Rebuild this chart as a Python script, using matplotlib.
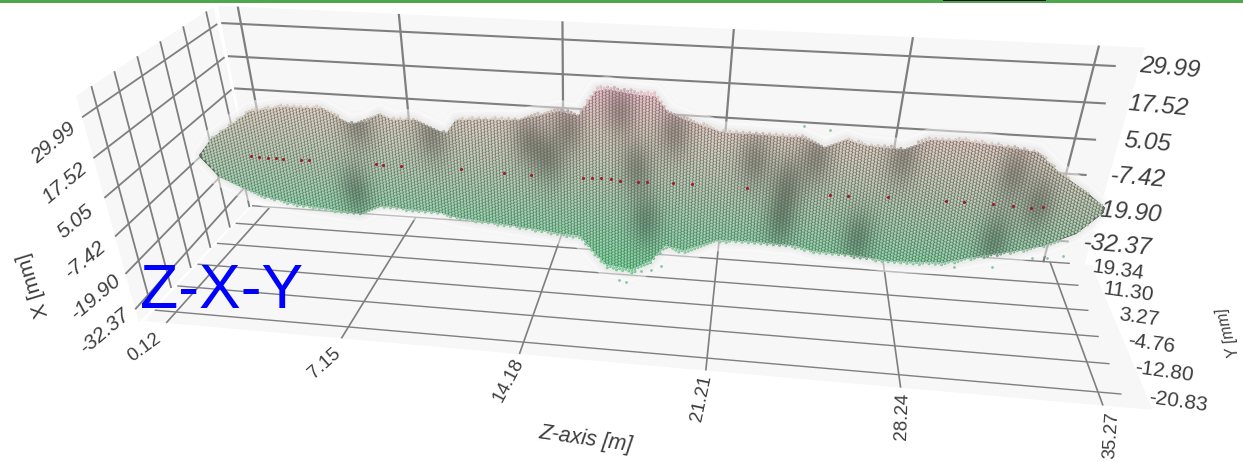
import numpy as np
import matplotlib
matplotlib.use("Agg")
import matplotlib.pyplot as plt
from matplotlib.colors import LinearSegmentedColormap
from matplotlib.patches import Polygon, Rectangle

# ---------- data ----------
z_ticks = [0.12, 7.15, 14.18, 21.21, 28.24, 35.27]
x_ticks = [29.99, 17.52, 5.05, -7.42, -19.90, -32.37]
y_ticks = [19.34, 11.30, 3.27, -4.76, -12.80, -20.83]

cloud_z = [0.24, 0.82, 1.79, 2.49, 3.74, 5.30, 6.27, 6.93, 7.44, 7.94, 8.80, 9.46, 9.97,
           10.36, 11.41, 12.69, 14.25, 15.03, 15.69, 16.08, 17.09, 17.87, 18.41, 19.19,
           20.48, 21.76, 23.48, 24.37, 25.15, 25.93, 27.37, 28.26, 29.55, 30.87, 32.43,
           33.32, 34.49, 35.35]
cloud_top = [-2.2, 4.3, 10.7, 15.5, 18.0, 18.6, 13.5, 14.7, 17.8, 16.0, 16.5, 13.7, 12.3,
             17.4, 18.4, 18.8, 23.1, 21.9, 31.2, 32.1, 30.9, 30.6, 24.8, 22.5,
             19.2, 19.2, 19.2, 16.3, 19.5, 17.9, 17.4, 21.2, 21.6, 20.6, 19.2,
             13.2, 7.4, 2.4]
cloud_bottom = [-2.9, -9.8, -13.8, -16.1, -18.1, -19.1, -19.5, -16.5, -16.1, -16.5, -16.6,
                -16.8, -17.8, -18.3, -18.9, -19.7, -21.0, -21.2, -27.6, -30.7, -31.7,
                -28.1, -22.2, -23.3, -18.7, -18.2, -18.3, -19.7, -19.9, -20.0, -21.0,
                -20.7, -20.1, -17.0, -14.0, -11.8, -6.9, 0.8]

center_z = [2.26, 2.57, 2.88, 3.2, 3.5, 4.17, 4.52, 7.13, 7.4, 8.1, 10.44, 12.11, 13.16,
            15.15, 15.53, 15.88, 16.24, 16.59, 17.29, 17.64, 18.65, 19.39, 21.53, 24.76,
            25.46, 27.02, 29.24, 29.94, 31.07, 31.85, 32.55, 33.01]
center_x = [-1.2, -1.3, -1.5, -1.2, -1.5, -1.3, -1.0, -0.8, -0.9, -0.85, -0.4, -0.7, -0.5,
            -0.45, -0.2, 0.0, 0.0, -0.55, -0.45, -0.2, 0.1, 0.2, 0.2, -0.1,
            0.0, 0.6, 0.7, 0.8, 1.1, 0.9, 0.7, 1.0]

shadow_z = [6.58, 6.19, 9.4, 13.08, 14.64, 13.86, 16.59, 17.25, 17.64, 18.65, 21.76, 23.09,
            22.93, 24.1, 27.37, 26.04, 31.65, 32.82, 31.38]
shadow_x = [13.3, -10.6, 10.9, 11.4, 16.8, 5.7, 23.8, 4.7, -13.2, 17.4, 9.8, 2.9,
            -9.7, 12.2, 14.1, -13.3, 11.2, 2.2, -10.8]

stray_z = [16.6, 16.9, 17.5, 17.9, 18.3, 30.0, 31.5, 33.0, 33.6, 34.2, 23.5, 24.5]
stray_x = [-34.5, -35.0, -30.5, -30.0, -28.5, -20.5, -19.5, -15.5, -15.0, -14.0, 22.5, 21.5]

# ---------- the view: tick spacing as drawn, and one four-corner map per drawn plane ----------
z_frac = [0, 0.187, 0.377, 0.576, 0.784, 1]
x_frac = [0, 0.213, 0.42, 0.621, 0.816, 1]
y_frac = [0, 0.232, 0.44, 0.64, 0.832, 1]

def warp(v, ticks, fracs):
    t = np.asarray(ticks, float)
    f = np.asarray(fracs, float)
    o = np.argsort(t)
    t, f = t[o], f[o]
    v = np.asarray(v, float)
    out = np.interp(v, t, f)
    out = np.where(v < t[0], f[0] + (v - t[0]) * (f[1] - f[0]) / (t[1] - t[0]), out)
    return np.where(v > t[-1], f[-1] + (v - t[-1]) * (f[-1] - f[-2]) / (t[-1] - t[-2]), out)

def plane(a_warp, b_warp, c00, c10, c11, c01):
    c00, c10, c11, c01 = [np.array(c, float) for c in (c00, c10, c11, c01)]
    def f(a, b):
        u, v = a_warp(a), b_warp(b)
        px = (1-u)*(1-v)*c00[0] + u*(1-v)*c10[0] + u*v*c11[0] + (1-u)*v*c01[0]
        py = (1-u)*(1-v)*c00[1] + u*(1-v)*c10[1] + u*v*c11[1] + (1-u)*v*c01[1]
        return px, py
    return f

wz = lambda v: warp(v, z_ticks, z_frac)
wx = lambda v: warp(v, x_ticks, x_frac)
wy = lambda v: warp(v, y_ticks[::-1], y_frac)
wy_side = lambda v: warp(v, [-20.83, 19.34], [0, 1])
lin_z = lambda v: warp(v, [0.12, 35.27], [0, 1])
lin_x = lambda v: warp(v, [29.99, -32.37], [0, 1])

zl, zh, xl, xh, yl, yh = 0.12, 35.27, -32.37, 29.99, -20.83, 19.34
wall = plane(wz, wx, (241, 24), (1094, 65), (1049, 240), (270, 180))
floor = plane(wz, wy, (176, 312), (1098, 392), (1050, 262), (270, 207))
side = plane(wy_side, wx, (97, 107), (210, 29), (245, 187), (148, 295))
mid = plane(lin_z, lin_x, (178, 66), (1122, 122), (1077, 315), (215, 238))

zmin, zmax, xtop, xwall, xside = -0.75, 36.1, 36.5, -41.0, -37.0
yfar = yh + 2.6

fig = plt.figure(figsize=(12.43, 4.62), dpi=100, facecolor="white")
ax = fig.add_axes([0, 0, 1, 1])
ax.set_xlim(0, 1243)
ax.set_ylim(462, 0)
ax.axis("off")
plt.rcParams["font.family"] = ["Liberation Sans", "DejaVu Sans"]

pane = "#f7f7f8"
grid = "#7f7f7f"
def pane_poly(H, corners):
    ax.add_patch(Polygon(np.array([H(a, b) for a, b in corners], float),
                         closed=True, fc=pane, ec="none", zorder=1))

pane_poly(wall, [(zmin, xtop), (zmax + 0.9, xtop), (zmax + 0.9, xwall), (zmin, xwall)])
pane_poly(floor, [(zmin, yl - 3.6), (zmax + 0.9, yl - 3.6), (zmax + 0.9, yh), (zmin, yh)])
pane_poly(side, [(yl - 5.3, xtop), (yfar, xtop), (yfar, xwall), (yl - 5.3, xside)])

def seg(H, a0, b0, a1, b1, lw):
    px, py = H(np.array([a0, a1]), np.array([b0, b1]))
    ax.plot(px, py, color=grid, lw=lw, solid_capstyle="butt", zorder=2)

for x in x_ticks:
    seg(wall, zmin, x, zmax, x, 1.5)
    seg(side, yl - 5.3, x, yfar, x, 1.3)
for z in z_ticks:
    seg(wall, z, xtop, z, xwall, 1.6)
    seg(floor, z, yl - 3.6, z, yh, 1.2)
for y in y_ticks:
    seg(floor, zmin, y, zmax, y, 1.0)
for y in np.array(y_ticks):
    frac = (y - yl) / (yh - yl)
    seg(side, y, xtop, y, xside + (xwall - xside) * frac, 1.3)

# ---------- tick labels and axis titles ----------
tc = "#3d3d3d"
for x in x_ticks:
    px, py = wall(38.15, x)
    ax.text(px, py, f"{x:.2f}", fontsize=17.5, style="italic", color=tc, rotation=-5,
            ha="center", va="center", zorder=3, rotation_mode="anchor")
    px, py = side(yl, x)
    ax.text(px - 43, py + 36, f"{x:.2f}", fontsize=15, style="italic", color=tc, rotation=40,
            ha="center", va="center", zorder=3, rotation_mode="anchor")
for y in y_ticks:
    px, py = floor(38.1, y)
    ax.text(px, py + 3, f"{y:.2f}", fontsize=15, color=tc, rotation=-8,
            ha="center", va="center", zorder=3, rotation_mode="anchor")
z_rot = [36, 42, 62, 78, 88, 86]
for z, r in zip(z_ticks, z_rot):
    px, py = floor(z, yl - 11)
    ax.text(px - 2, py + 2, f"{z:.2f}", fontsize=13.5, color=tc, rotation=r,
            ha="center", va="center", zorder=3, rotation_mode="anchor")
ax.text(586, 439, "Z-axis [m]", fontsize=15.5, style="italic", color=tc, rotation=-8,
        ha="center", va="center", rotation_mode="anchor")
ax.text(33, 285, "X [mm]", fontsize=15, color=tc, rotation=107,
        ha="center", va="center", rotation_mode="anchor")
ax.text(1228, 332, "Y [mm]", fontsize=11.5, style="italic", color=tc, rotation=105,
        ha="center", va="center", rotation_mode="anchor")

# ---------- the point cloud, laid out as a staggered surface mesh between the read envelopes ----------
cz = np.array(cloud_z)
top, bot = np.array(cloud_top), np.array(cloud_bottom)
cmap = LinearSegmentedColormap.from_list(
    "cloud", [(0.0, "#6cc48c"), (0.25, "#88bf9b"), (0.5, "#abbda6"),
              (0.75, "#cdc4b6"), (1.0, "#e6bcc4")])
base = LinearSegmentedColormap.from_list(
    "cloudbase", [(0.0, "#3a8056"), (0.25, "#48775b"), (0.5, "#616e60"),
                  (0.75, "#776b63"), (1.0, "#8e666e")])
xnorm = lambda v: np.clip((np.asarray(v) + 32) / 64, 0, 1)

# soft halo: pale near the cloud, with a faint grey glow
hx, hy = mid(np.r_[cz, cz[::-1]], np.r_[top, bot[::-1]])
ax.add_patch(Polygon(np.c_[hx, hy], closed=True, fc="none", ec="white", lw=13,
                     alpha=0.5, zorder=2.5, joinstyle="round"))
for lw, a in [(14, 0.02), (8, 0.035), (4, 0.05)]:
    ax.add_patch(Polygon(np.c_[hx, hy], closed=True, fc="none", ec="#777777", lw=lw,
                         alpha=a, zorder=2.6, joinstyle="round"))

rows = np.linspace(0.025, 0.975, 60)
mz = np.repeat(cz[:, None], rows.size, axis=1)
mx = bot[:, None] + (top - bot)[:, None] * rows
mpx, mpy = mid(mz, mx)
ax.pcolormesh(mpx, mpy, xnorm(mx), shading="gouraud", cmap=base, vmin=0, vmax=1, zorder=5)

lz, lx = [], []
for i, z in enumerate(np.arange(cz[0], cz[-1], 0.125)):
    t, b = np.interp(z, cz, top), np.interp(z, cz, bot)
    xs = np.arange(-36 + 0.5 * (i % 2), 36, 1.0)
    xs = xs[(xs >= b) & (xs <= t)]
    lz.append(np.full(xs.size, z))
    lx.append(xs)
lz, lx = np.concatenate(lz), np.concatenate(lx)
dim = np.ones(lz.size)
for sz, sx in zip(shadow_z, shadow_x):
    dim -= 0.30 * np.exp(-(((lz - sz) / 0.6) ** 2 + ((lx - sx) / 9.0) ** 2))
rgb = cmap(xnorm(lx))
rgb[:, :3] *= np.clip(dim, 0.5, 1)[:, None]
lpx, lpy = mid(lz, lx)
ax.scatter(lpx, lpy, s=4.6, c=rgb, linewidths=0, zorder=6)
ax.scatter(lpx - 0.3, lpy - 0.3, s=1.2, c="white", alpha=0.35 * np.clip(dim, 0, 1), linewidths=0, zorder=6)

spx, spy = mid(np.array(stray_z), np.array(stray_x))
ax.scatter(spx, spy, s=4, c="#88c69c", linewidths=0, zorder=6)
rpx, rpy = mid(np.array(center_z), np.array(center_x))
ax.scatter(rpx, rpy, s=5, c="#a01c28", linewidths=0, zorder=7)

# ---------- overlays ----------
ax.text(140, 308, "Z-X-Y", fontsize=45, color="#0000ff", ha="left", va="baseline", zorder=8)
ax.add_patch(Rectangle((0, 0), 1243, 3, fc="#4ea64f", ec="none", zorder=8))
ax.add_patch(Rectangle((943, 0), 103, 1, fc="#111111", ec="none", zorder=9))

fig.savefig("out.png", dpi=100)
